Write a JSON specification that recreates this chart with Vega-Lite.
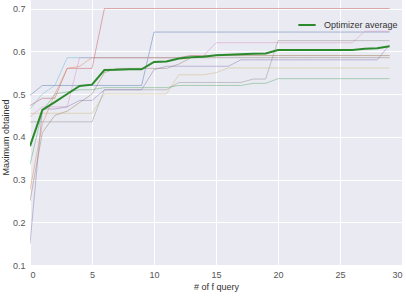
{
  "$schema": "https://vega.github.io/schema/vega-lite/v6.json",
  "width": 372,
  "height": 265,
  "autosize": "none",
  "padding": {"left": 30, "top": 0, "right": 4, "bottom": 32},
  "background": "white",
  "config": {
    "view": {"fill": "#EAEAF2", "stroke": null},
    "font": "Liberation Sans",
    "axis": {
      "grid": true, "gridColor": "white", "gridWidth": 1,
      "domain": false, "ticks": false,
      "labelFont": "Liberation Sans", "labelFontSize": 9, "labelColor": "#555",
      "titleFont": "Liberation Sans", "titleFontSize": 9, "titleColor": "#333", "titleFontWeight": "normal"
    }
  },
  "data": {"values": [
    {"x":0,"red":0.473,"blue":0.497,"pink":0.447,"gray":0.435,"purple":0.15,"yellow":0.455,"green":0.335,"cyan":0.465,"orange":0.276,"brown":0.25,"avg":0.378},
    {"x":1,"red":0.49,"blue":0.52,"pink":0.47,"gray":0.435,"purple":0.465,"yellow":0.455,"green":0.46,"cyan":0.50,"orange":0.43,"brown":0.41,"avg":0.463},
    {"x":2,"red":0.49,"blue":0.52,"pink":0.47,"gray":0.435,"purple":0.465,"yellow":0.455,"green":0.50,"cyan":0.52,"orange":0.50,"brown":0.45,"avg":0.481},
    {"x":3,"red":0.56,"blue":0.52,"pink":0.47,"gray":0.435,"purple":0.47,"yellow":0.455,"green":0.505,"cyan":0.585,"orange":0.56,"brown":0.46,"avg":0.500},
    {"x":4,"red":0.56,"blue":0.52,"pink":0.585,"gray":0.435,"purple":0.485,"yellow":0.455,"green":0.51,"cyan":0.585,"orange":0.565,"brown":0.48,"avg":0.519},
    {"x":5,"red":0.56,"blue":0.52,"pink":0.585,"gray":0.435,"purple":0.485,"yellow":0.455,"green":0.51,"cyan":0.585,"orange":0.585,"brown":0.50,"avg":0.522},
    {"x":6,"red":0.70,"blue":0.52,"pink":0.585,"gray":0.51,"purple":0.51,"yellow":0.50,"green":0.515,"cyan":0.585,"orange":0.585,"brown":0.55,"avg":0.556},
    {"x":7,"red":0.70,"blue":0.52,"pink":0.585,"gray":0.51,"purple":0.51,"yellow":0.50,"green":0.515,"cyan":0.585,"orange":0.585,"brown":0.56,"avg":0.557},
    {"x":8,"red":0.70,"blue":0.52,"pink":0.585,"gray":0.51,"purple":0.51,"yellow":0.50,"green":0.515,"cyan":0.585,"orange":0.585,"brown":0.56,"avg":0.558},
    {"x":9,"red":0.70,"blue":0.52,"pink":0.585,"gray":0.51,"purple":0.51,"yellow":0.50,"green":0.515,"cyan":0.585,"orange":0.585,"brown":0.56,"avg":0.558},
    {"x":10,"red":0.70,"blue":0.645,"pink":0.585,"gray":0.51,"purple":0.557,"yellow":0.50,"green":0.515,"cyan":0.585,"orange":0.585,"brown":0.56,"avg":0.575},
    {"x":11,"red":0.70,"blue":0.645,"pink":0.585,"gray":0.51,"purple":0.565,"yellow":0.50,"green":0.515,"cyan":0.585,"orange":0.585,"brown":0.56,"avg":0.576},
    {"x":12,"red":0.70,"blue":0.645,"pink":0.585,"gray":0.527,"purple":0.565,"yellow":0.545,"green":0.52,"cyan":0.585,"orange":0.585,"brown":0.57,"avg":0.583},
    {"x":13,"red":0.70,"blue":0.645,"pink":0.59,"gray":0.527,"purple":0.565,"yellow":0.545,"green":0.52,"cyan":0.59,"orange":0.59,"brown":0.585,"avg":0.586},
    {"x":14,"red":0.70,"blue":0.645,"pink":0.59,"gray":0.527,"purple":0.565,"yellow":0.545,"green":0.52,"cyan":0.59,"orange":0.59,"brown":0.585,"avg":0.587},
    {"x":15,"red":0.70,"blue":0.645,"pink":0.62,"gray":0.527,"purple":0.565,"yellow":0.55,"green":0.52,"cyan":0.59,"orange":0.59,"brown":0.585,"avg":0.591},
    {"x":16,"red":0.70,"blue":0.645,"pink":0.62,"gray":0.527,"purple":0.565,"yellow":0.561,"green":0.52,"cyan":0.59,"orange":0.59,"brown":0.585,"avg":0.592},
    {"x":17,"red":0.70,"blue":0.645,"pink":0.62,"gray":0.527,"purple":0.58,"yellow":0.561,"green":0.52,"cyan":0.59,"orange":0.59,"brown":0.585,"avg":0.593},
    {"x":18,"red":0.70,"blue":0.645,"pink":0.62,"gray":0.535,"purple":0.58,"yellow":0.561,"green":0.525,"cyan":0.59,"orange":0.59,"brown":0.585,"avg":0.594},
    {"x":19,"red":0.70,"blue":0.645,"pink":0.62,"gray":0.535,"purple":0.58,"yellow":0.561,"green":0.525,"cyan":0.59,"orange":0.59,"brown":0.585,"avg":0.595},
    {"x":20,"red":0.70,"blue":0.645,"pink":0.62,"gray":0.625,"purple":0.58,"yellow":0.561,"green":0.536,"cyan":0.59,"orange":0.59,"brown":0.585,"avg":0.603},
    {"x":21,"red":0.70,"blue":0.645,"pink":0.62,"gray":0.625,"purple":0.58,"yellow":0.561,"green":0.536,"cyan":0.59,"orange":0.59,"brown":0.585,"avg":0.603},
    {"x":22,"red":0.70,"blue":0.645,"pink":0.62,"gray":0.625,"purple":0.58,"yellow":0.561,"green":0.536,"cyan":0.59,"orange":0.59,"brown":0.585,"avg":0.603},
    {"x":23,"red":0.70,"blue":0.645,"pink":0.62,"gray":0.625,"purple":0.58,"yellow":0.561,"green":0.536,"cyan":0.59,"orange":0.59,"brown":0.585,"avg":0.603},
    {"x":24,"red":0.70,"blue":0.645,"pink":0.62,"gray":0.625,"purple":0.58,"yellow":0.561,"green":0.536,"cyan":0.59,"orange":0.59,"brown":0.585,"avg":0.603},
    {"x":25,"red":0.70,"blue":0.645,"pink":0.62,"gray":0.625,"purple":0.58,"yellow":0.561,"green":0.536,"cyan":0.59,"orange":0.59,"brown":0.585,"avg":0.603},
    {"x":26,"red":0.70,"blue":0.645,"pink":0.62,"gray":0.625,"purple":0.58,"yellow":0.561,"green":0.536,"cyan":0.59,"orange":0.59,"brown":0.585,"avg":0.603},
    {"x":27,"red":0.70,"blue":0.645,"pink":0.647,"gray":0.625,"purple":0.58,"yellow":0.561,"green":0.536,"cyan":0.59,"orange":0.59,"brown":0.585,"avg":0.606},
    {"x":28,"red":0.70,"blue":0.645,"pink":0.647,"gray":0.625,"purple":0.58,"yellow":0.561,"green":0.536,"cyan":0.59,"orange":0.59,"brown":0.585,"avg":0.607},
    {"x":29,"red":0.70,"blue":0.645,"pink":0.647,"gray":0.625,"purple":0.615,"yellow":0.561,"green":0.536,"cyan":0.59,"orange":0.59,"brown":0.585,"avg":0.612}
  ]},
  "encoding": {
    "x": {"field": "x", "type": "quantitative", "scale": {"domain": [0, 30], "nice": false}, "axis": {"values": [0,5,10,15,20,25,30], "title": "# of f query", "labelPadding": 5, "titlePadding": 3}}
  },
  "layer": [
    {
      "transform": [{"fold": ["red","blue","pink","gray","purple","yellow","green","cyan","orange","brown"], "as": ["run","value"]}],
      "mark": {"type": "line", "strokeWidth": 0.9, "opacity": 0.5, "clip": true},
      "encoding": {
        "y": {"field": "value", "type": "quantitative", "scale": {"domain": [0.1, 0.72], "nice": false}, "axis": {"values": [0.1,0.2,0.3,0.4,0.5,0.6,0.7], "format": ".1f", "title": "Maximum obtained", "labelPadding": 5, "titleX": -22, "titleY": 137, "titleBaseline": "alphabetic"}},
        "color": {"field": "run", "type": "nominal", "legend": null,
          "scale": {"domain": ["blue","orange","green","red","purple","brown","pink","gray","yellow","cyan"],
                    "range": ["#4C72B0","#DD8452","#55A868","#C44E52","#8172B3","#937860","#DA8BC3","#8C8C8C","#CCB974","#64B5CD"]}}
      }
    },
    {
      "mark": {"type": "line", "strokeWidth": 2, "clip": true},
      "encoding": {
        "y": {"field": "avg", "type": "quantitative"},
        "color": {"datum": "Optimizer average", "type": "nominal",
          "scale": {"range": ["#2b8a2b"]},
          "legend": {"orient": "none", "legendX": 267, "legendY": 15, "title": null, "symbolType": "stroke", "symbolStrokeWidth": 2, "symbolSize": 300, "labelFontSize": 9, "labelColor": "#333", "labelFont": "Liberation Sans", "padding": 0, "labelOffset": 7}}
      }
    }
  ],
  "resolve": {"scale": {"color": "independent"}}
}
